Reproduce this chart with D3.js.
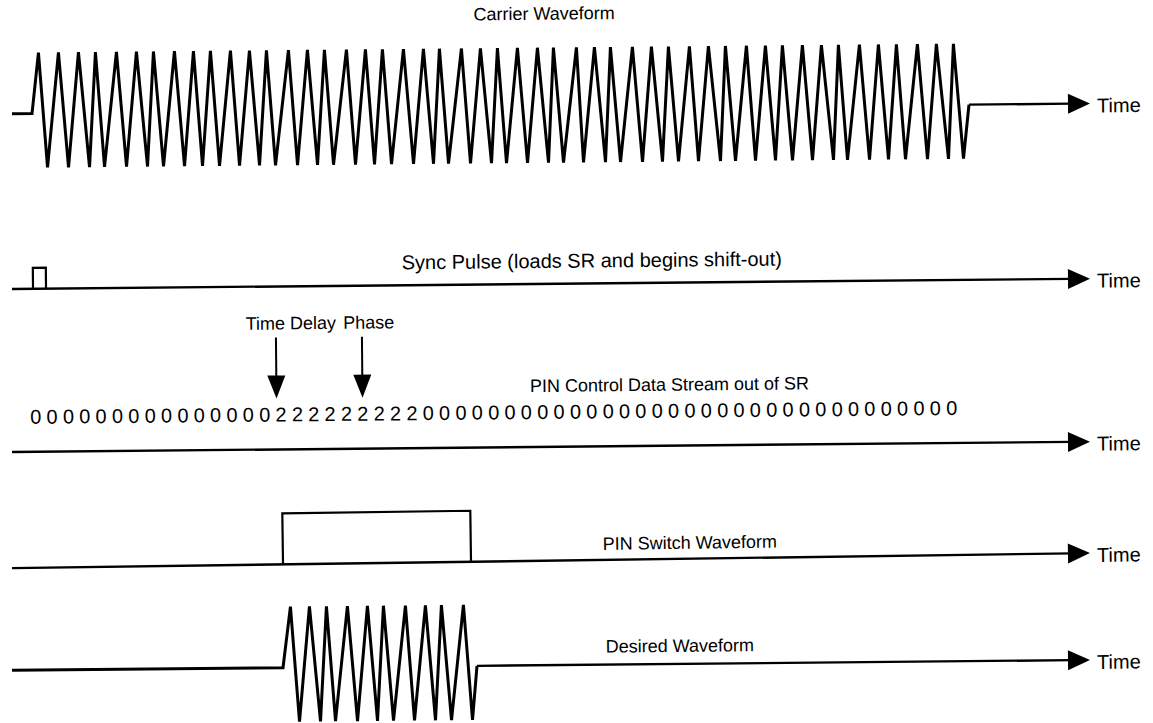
<!DOCTYPE html>
<html>
<head>
<meta charset="utf-8">
<script src="https://cdn.jsdelivr.net/npm/d3@7"></script>
<style>
  body { margin: 0; background: #fff; }
  text { font-family: "Liberation Sans", Arial, sans-serif; fill: #000; }
</style>
</head>
<body>
<div id="chart"></div>
<script>
// time runs in arbitrary units, 0 at the left end of every trace
const tEnd = 107.8;

// carrier burst
const carrierStart = 2.0, carrierStop = 95.7;
const carrierPeaks = [2.7, 4.7, 6.7, 8.4, 10.5, 12.5, 14.2, 16.3, 18.2, 19.9, 21.9, 23.8, 25.5,
  27.7, 29.6, 31.3, 33.5, 35.4, 37.1, 39.2, 41.2, 42.8, 45.0, 46.9, 48.6, 50.6, 52.6, 54.2,
  56.5, 58.3, 59.9, 62.1, 64.0, 65.7, 67.8, 69.7, 71.4, 73.5, 75.4, 77.1, 79.1, 81.0, 82.7,
  84.8, 86.7, 88.5, 90.6, 92.5, 94.2];
const carrierTroughs = [3.5, 5.6, 7.7, 9.2, 11.4, 13.5, 15.1, 17.2, 19.0, 20.7, 22.7, 24.7, 26.3,
  28.5, 30.5, 32.1, 34.3, 36.2, 37.9, 40.1, 42.1, 43.6, 45.8, 47.9, 49.4, 51.5, 53.6, 55.1,
  57.1, 59.3, 60.8, 63.0, 65.0, 66.6, 68.6, 70.8, 72.3, 74.3, 76.3, 78.0, 80.0, 82.1, 83.5,
  85.7, 87.6, 89.3, 91.5, 93.6, 95.1];

// sync pulse (rise, fall)
const syncPulse = [2.1, 3.4];

// shift register contents
const bits = ['0','0','0','0','0','0','0','0','0','0','0','0','0','0','0',
  '2','2','2','2','2','2','2','2','2',
  '0','0','0','0','0','0','0','0','0','0','0','0','0','0','0','0','0','0','0','0','0','0',
  '0','0','0','0','0','0','0','0','0','0','0'];
const markers = [{ label: 'Time Delay', t: 26.5, lx: 28.0 }, { label: 'Phase', t: 35.1, lx: 35.8 }];

// PIN switch gate (on, off)
const pinSwitch = [27.1, 45.9];

// gated output
const desiredStart = 27.1, desiredStop = 46.5;
const desiredPeaks = [27.9, 29.8, 31.5, 33.6, 35.6, 37.2, 39.4, 41.4, 43.0, 45.2];
const desiredTroughs = [28.7, 30.8, 32.3, 34.5, 36.5, 38.1, 40.2, 42.3, 43.9, 46.0];

const width = 1153, height = 723;
const tilt = -0.55;   // the scanned page is slightly rotated

const svg = d3.select('#chart')
  .append('svg')
  .attr('width', width)
  .attr('height', height);

svg.append('rect').attr('width', width).attr('height', height).attr('fill', '#fff');

const x = d3.scaleLinear().domain([0, tEnd]).range([12, 1090]);
// waveform level -> offset from the row baseline
const y = d3.scaleLinear().domain([-1, 0, 1]).range([54, 0, -61]);

function row(base, angle) {
  return svg.append('g')
    .attr('transform', `translate(0,${base}) rotate(${angle || tilt},576,0)`);
}

function timeAxis(g, from) {
  g.append('line')
    .attr('x1', x(from)).attr('x2', x(tEnd) - 18)
    .attr('y1', 0).attr('y2', 0)
    .attr('stroke', '#000').attr('stroke-width', 2.4);
  g.append('path')
    .attr('d', `M${x(tEnd) - 22},-10L${x(tEnd)},0L${x(tEnd) - 22},10Z`)
    .attr('fill', '#000');
  g.append('text')
    .attr('x', x(tEnd) + 7).attr('y', 9)
    .attr('font-size', 20)
    .text('Time');
}

function burst(start, stop, peaks, troughs) {
  const pts = [[0, 0], [start, 0]];
  peaks.forEach((p, i) => { pts.push([p, 1]); pts.push([troughs[i], -1]); });
  pts.push([stop, 0]);
  return pts;
}

const wave = d3.line().x(d => x(d[0])).y(d => y(d[1]));

// --- carrier
const g1 = row(108.4);
g1.append('path')
  .attr('d', wave(burst(carrierStart, carrierStop, carrierPeaks, carrierTroughs)))
  .attr('fill', 'none').attr('stroke', '#000').attr('stroke-width', 3)
  .attr('stroke-linejoin', 'miter');
timeAxis(g1, carrierStop);
g1.append('text')
  .attr('x', 545).attr('y', -89)
  .attr('text-anchor', 'middle').attr('font-size', 18)
  .text('Carrier Waveform');

// --- sync pulse
const g2 = row(283.6);
const pulseH = 21;
g2.append('path')
  .attr('d', `M${x(syncPulse[0])},0V${-pulseH}H${x(syncPulse[1])}V0`)
  .attr('fill', 'none').attr('stroke', '#000').attr('stroke-width', 2.2);
timeAxis(g2, 0);
g2.append('text')
  .attr('x', 592).attr('y', -16)
  .attr('text-anchor', 'middle').attr('font-size', 20)
  .text('Sync Pulse (loads SR and begins shift-out)');

// --- data stream
const g3 = row(446.6);
timeAxis(g3, 0);
const bitX = d3.scalePoint().domain(d3.range(bits.length)).range([36, 952]);
g3.selectAll('text.bit')
  .data(bits)
  .enter()
  .append('text')
  .attr('class', 'bit')
  .attr('x', (d, i) => bitX(i))
  .attr('y', -28)
  .attr('text-anchor', 'middle')
  .attr('font-size', 20)
  .text(d => d);
g3.append('text')
  .attr('x', 670).attr('y', -55)
  .attr('text-anchor', 'middle').attr('font-size', 18)
  .text('PIN Control Data Stream out of SR');
markers.forEach(m => {
  g3.append('line')
    .attr('x1', x(m.t)).attr('x2', x(m.t))
    .attr('y1', -112).attr('y2', -72)
    .attr('stroke', '#000').attr('stroke-width', 2);
  g3.append('path')
    .attr('d', `M${x(m.t) - 9},-74L${x(m.t) + 9},-74L${x(m.t)},-51Z`)
    .attr('fill', '#000');
  g3.append('text')
    .attr('x', x(m.lx)).attr('y', -120)
    .attr('text-anchor', 'middle').attr('font-size', 18)
    .text(m.label);
});

// --- PIN switch
const g4 = row(560.3, -0.8);
const gateH = 51;
g4.append('path')
  .attr('d', `M${x(pinSwitch[0])},0V${-gateH}H${x(pinSwitch[1])}V0`)
  .attr('fill', 'none').attr('stroke', '#000').attr('stroke-width', 2.2);
timeAxis(g4, 0);
g4.append('text')
  .attr('x', 690).attr('y', -10)
  .attr('text-anchor', 'middle').attr('font-size', 18)
  .text('PIN Switch Waveform');

// --- desired output
const g5 = row(664.9);
g5.append('path')
  .attr('d', wave(burst(desiredStart, desiredStop, desiredPeaks, desiredTroughs)))
  .attr('fill', 'none').attr('stroke', '#000').attr('stroke-width', 3);
timeAxis(g5, desiredStop);
g5.append('text')
  .attr('x', 680).attr('y', -12)
  .attr('text-anchor', 'middle').attr('font-size', 18)
  .text('Desired Waveform');
</script>
</body>
</html>
